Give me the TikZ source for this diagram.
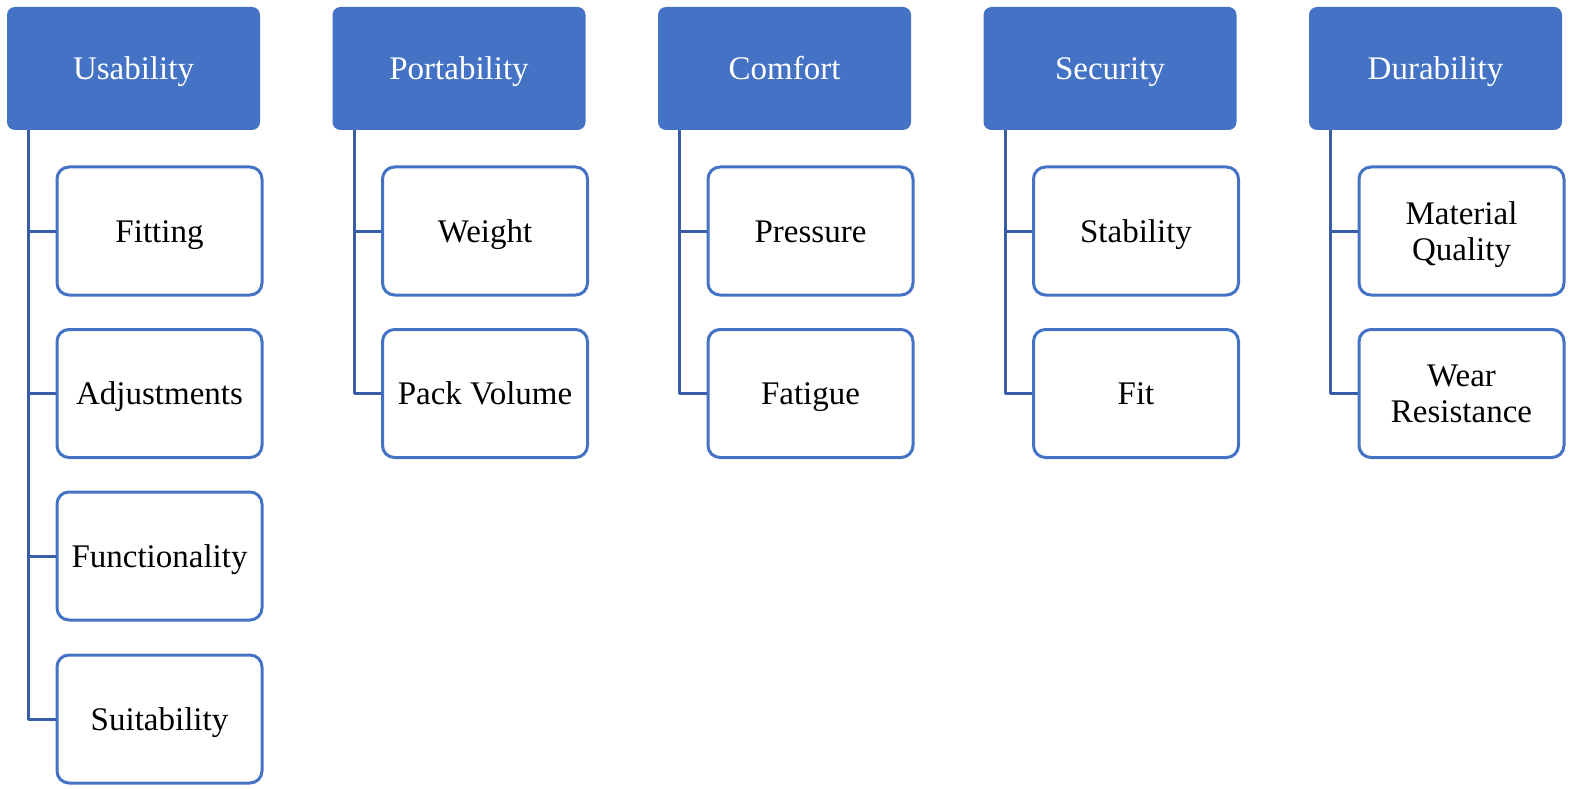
\documentclass[tikz,border=0pt]{standalone}
\usepackage{fontspec}
\setmainfont{Liberation Serif}
\definecolor{hdrblue}{HTML}{4472C4}
\definecolor{linkblue}{HTML}{3A5DA8}
\begin{document}
\begin{tikzpicture}[x=1pt, y=-1pt, font=\fontsize{33}{36}\selectfont, line join=round,
  header/.style={fill=hdrblue, rounded corners=8pt, minimum width=253pt, minimum height=123pt,
    inner sep=0pt, text=white, text height=22pt, text depth=0pt},
  item/.style={draw=hdrblue, line width=3pt, fill=white, rounded corners=12pt, minimum width=205pt,
    minimum height=128pt, inner sep=0pt, align=center, text height=22pt, text depth=0pt},
  twoline/.style={text height=58pt},
  link/.style={draw=linkblue, line width=3pt}]
\useasboundingbox (0,0) rectangle (1572,789);
% headers
\node[header] (h1) at (133.5,68.5) {Usability};
\node[header] (h2) at (459,68.5) {Portability};
\node[header] (h3) at (784.5,68.5) {Comfort};
\node[header] (h4) at (1110,68.5) {Security};
\node[header] (h5) at (1435.5,68.5) {Durability};
% usability
\node[item] (u1) at (159.5,231) {Fitting};
\node[item] (u2) at (159.5,393.5) {Adjustments};
\node[item] (u3) at (159.5,556) {Functionality};
\node[item] (u4) at (159.5,719) {Suitability};
% portability
\node[item] (p1) at (485,231) {Weight};
\node[item] (p2) at (485,393.5) {Pack Volume};
% comfort
\node[item] (c1) at (810.5,231) {Pressure};
\node[item] (c2) at (810.5,393.5) {Fatigue};
% security
\node[item] (s1) at (1136,231) {Stability};
\node[item] (s2) at (1136,393.5) {Fit};
% durability
\node[item, twoline] (d1) at (1461.5,231) {Material\\Quality};
\node[item, twoline] (d2) at (1461.5,393.5) {Wear\\Resistance};
% connectors
\foreach \hd/\ch in {h1/u1, h1/u2, h1/u3, h1/u4, h2/p1, h2/p2, h3/c1, h3/c2, h4/s1, h4/s2, h5/d1, h5/d2}
  \draw[link] ([xshift=22pt]\hd.south west) |- (\ch.west);
\end{tikzpicture}
\end{document}
